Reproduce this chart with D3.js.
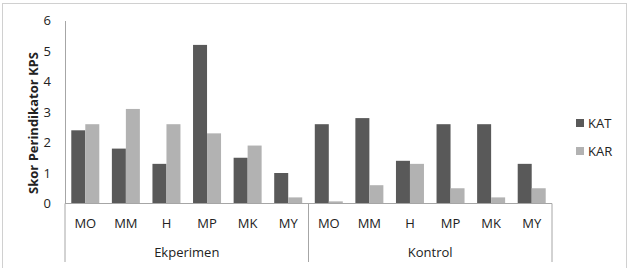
<!DOCTYPE html>
<html><head><meta charset="utf-8">
<script src="https://cdn.jsdelivr.net/npm/d3@7"></script>
<style>body{margin:0;background:#fff}svg{display:block}text{font-family:"Open Sans",Lato,sans-serif;fill:#222}</style>
</head><body><svg id="c" width="631" height="268"></svg>
<script>
const categories = ["MO","MM","H","MP","MK","MY","MO","MM","H","MP","MK","MY"];
const groups = ["Ekperimen","Kontrol"];
const seriesNames = ["KAT","KAR"];
const katValues = [2.4,1.8,1.3,5.2,1.5,1.0, 2.6,2.8,1.4,2.6,2.6,1.3];
const karValues = [2.6,3.1,2.6,2.3,1.9,0.2, 0.07,0.6,1.3,0.5,0.2,0.5];
const yTicks = [0,1,2,3,4,5,6];
const colors = ["#595959","#b2b2b2"];

const svg = d3.select("#c");
svg.append("rect").attr("x",2.5).attr("y",3.5).attr("width",624).attr("height",270)
  .attr("fill","none").attr("stroke","#d0d0d0");

const pL=65, pR=552, pT=20.5, pB=203.5;
const idx = d3.range(categories.length);
const x = d3.scaleBand().domain(idx).range([pL,pR]).paddingInner(0.31).paddingOuter(0.155);
const x1 = d3.scaleBand().domain(seriesNames).range([0,x.bandwidth()]);
const y = d3.scaleLinear().domain([0,6]).range([pB,pT]);

// y axis
const ya = svg.append("g").attr("transform",`translate(${pL},0)`)
  .call(d3.axisLeft(y).tickValues(yTicks).tickFormat(d3.format("d")).tickSize(0).tickPadding(14));
ya.select(".domain").attr("stroke","#a6a6a6");
ya.selectAll("text").attr("font-size",13).style("font-family","'Open Sans',sans-serif").attr("fill","#222");

const data = [katValues, karValues];
data.forEach((vals,s)=>{
  svg.append("g").selectAll("rect").data(vals).join("rect")
    .attr("x",(d,i)=>x(i)+x1(seriesNames[s]))
    .attr("width",x1.bandwidth())
    .attr("y",d=>y(d)).attr("height",d=>y(0)-y(d))
    .attr("fill",colors[s]);
});

// category axis
svg.append("line").attr("x1",pL).attr("x2",pR).attr("y1",pB).attr("y2",pB).attr("stroke","#a6a6a6");
const sepX = [pL, pL+6*(pR-pL)/12, pR];
sepX.forEach(sx=>svg.append("line").attr("x1",sx).attr("x2",sx).attr("y1",pB).attr("y2",262).attr("stroke","#a6a6a6"));
svg.append("g").selectAll("text").data(categories).join("text")
  .attr("x",(d,i)=>x(i)+x.bandwidth()/2).attr("y",228).attr("text-anchor","middle")
  .attr("font-size",13).text(d=>d);
svg.append("g").selectAll("text").data(groups).join("text")
  .attr("x",(d,i)=>(sepX[i]+sepX[i+1])/2).attr("y",257).attr("text-anchor","middle")
  .attr("font-size",13).text(d=>d);

// y title
svg.append("text").attr("transform","translate(38,123) rotate(-90)").attr("text-anchor","middle")
  .attr("font-size",13).attr("font-weight","bold").text("Skor Perindikator KPS");

// legend
const lg = svg.append("g").selectAll("g").data(seriesNames).join("g")
  .attr("transform",(d,i)=>`translate(576,${123+i*28})`);
lg.append("rect").attr("x",0).attr("y",-4).attr("width",8).attr("height",8).attr("fill",(d,i)=>colors[i]);
lg.append("text").attr("x",12).attr("y",5).attr("font-size",13).text(d=>d);
</script></body></html>
